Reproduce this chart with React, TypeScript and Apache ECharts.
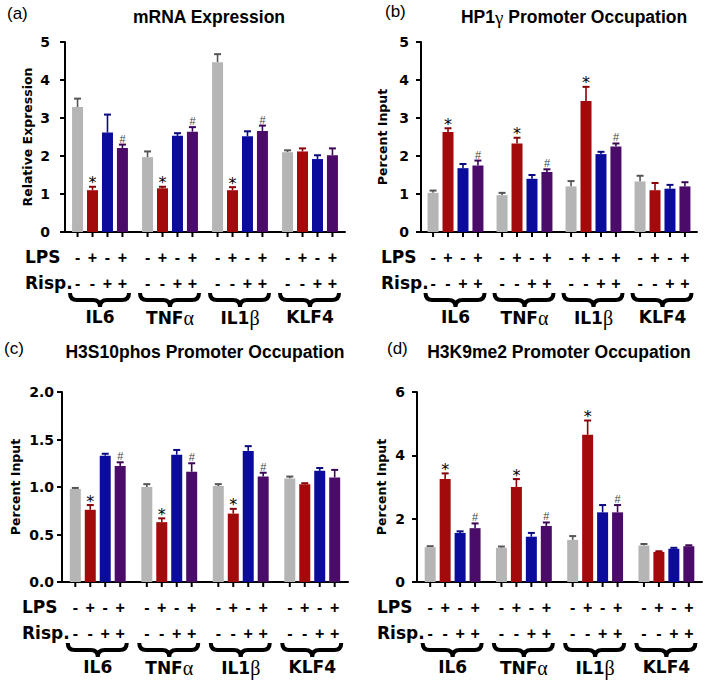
import React, { useEffect, useRef } from "react";
import * as echarts from "echarts";

// ---------- data ----------
const genes = ["IL6", "TNFα", "IL1β", "KLF4"];
const conditions = ["Control", "LPS", "Risp.", "LPS + Risp."];
const lpsSigns = ["-", "+", "-", "+"];
const rispSigns = ["-", "-", "+", "+"];
const conditionMarks = ["", "*", "", "#"];
const markedGenes = [true, true, true, false];

// rows = conditions (Control, LPS, Risp., LPS+Risp.), columns = genes
const mrnaMean = [
  [3.29, 1.97, 4.47, 2.1],
  [1.1, 1.15, 1.1, 2.12],
  [2.62, 2.53, 2.52, 1.92],
  [2.21, 2.64, 2.66, 2.02],
];
const mrnaSem = [
  [0.22, 0.15, 0.21, 0.05],
  [0.09, 0.04, 0.08, 0.08],
  [0.47, 0.07, 0.13, 0.1],
  [0.09, 0.12, 0.14, 0.18],
];
const hp1Mean = [
  [1.03, 0.97, 1.2, 1.33],
  [2.63, 2.33, 3.45, 1.1],
  [1.68, 1.4, 2.05, 1.14],
  [1.75, 1.58, 2.25, 1.2],
];
const hp1Sem = [
  [0.06, 0.06, 0.14, 0.15],
  [0.1, 0.15, 0.37, 0.19],
  [0.11, 0.1, 0.06, 0.1],
  [0.13, 0.07, 0.08, 0.11],
];
const h3s10Mean = [
  [0.98, 1.0, 1.01, 1.09],
  [0.76, 0.63, 0.72, 1.03],
  [1.33, 1.34, 1.38, 1.17],
  [1.22, 1.16, 1.11, 1.1],
];
const h3s10Sem = [
  [0.01, 0.03, 0.02, 0.02],
  [0.05, 0.04, 0.05, 0.01],
  [0.02, 0.05, 0.05, 0.03],
  [0.04, 0.09, 0.04, 0.08],
];
const h3k9Mean = [
  [1.1, 1.08, 1.33, 1.15],
  [3.25, 3.0, 4.65, 0.95],
  [1.55, 1.43, 2.2, 1.05],
  [1.7, 1.77, 2.2, 1.13],
];
const h3k9Sem = [
  [0.03, 0.04, 0.12, 0.05],
  [0.18, 0.25, 0.45, 0.02],
  [0.05, 0.12, 0.23, 0.03],
  [0.15, 0.11, 0.23, 0.03],
];

// ---------- styles ----------
const FONT = '"Liberation Sans", Arial, Helvetica, sans-serif';
const WIDE = '"DejaVu Sans", Verdana, sans-serif';
const SERIF = '"Liberation Serif", "Times New Roman", serif';
const barColors = ["#b5b5b5", "#a30a0c", "#0c0c9c", "#4b0c69"];
const errColors = ["#555555", "#8a0008", "#0a0a80", "#3a0856"];
const BAR_W = 11;
const GAP = 0.36;
const STEP = BAR_W * (1 + GAP);

const panels = [
  {
    label: "(a)",
    title: "mRNA Expression",
    mean: mrnaMean,
    sem: mrnaSem,
    yName: "Relative Expression",
    max: 5,
    interval: 1,
    decimals: 0,
    grid: { left: 65, top: 42, width: 280, height: 190 },
    nameGap: 31,
    labelMargin: 15,
    labelPos: [7, 15],
    titlePos: [209, 17],
  },
  {
    label: "(b)",
    title: "HP1γ Promoter Occupation",
    mean: hp1Mean,
    sem: hp1Sem,
    yName: "Percent Input",
    max: 5,
    interval: 1,
    decimals: 0,
    grid: { left: 421, top: 42, width: 276, height: 190 },
    nameGap: 32,
    labelMargin: 12,
    labelPos: [385, 13],
    titlePos: [574, 17],
  },
  {
    label: "(c)",
    title: "H3S10phos Promoter Occupation",
    mean: h3s10Mean,
    sem: h3s10Sem,
    yName: "Percent Input",
    max: 2,
    interval: 0.5,
    decimals: 1,
    grid: { left: 62, top: 392, width: 286, height: 190 },
    nameGap: 40,
    labelMargin: 8,
    labelPos: [4, 350],
    titlePos: [205, 352],
  },
  {
    label: "(d)",
    title: "H3K9me2 Promoter Occupation",
    mean: h3k9Mean,
    sem: h3k9Sem,
    yName: "Percent Input",
    max: 6,
    interval: 2,
    decimals: 0,
    grid: { left: 417, top: 392, width: 285, height: 190 },
    nameGap: 29,
    labelMargin: 12,
    labelPos: [387, 350],
    titlePos: [559, 352],
  },
];

function richify(s: string) {
  return s.replace(/([^αβγ]+)/g, "{b|$1}").replace(/([αβγ])/g, "{g|$1}");
}

function makeRich(family: string, size: number, greekSize: number) {
  return {
    b: { fontFamily: family, fontWeight: "bold", fontSize: size, color: "#000" },
    g: { fontFamily: SERIF, fontWeight: "normal", fontSize: greekSize, color: "#000" },
  };
}

function signText(text: string, x: number, y: number) {
  return {
    type: "text",
    x,
    y,
    style: {
      text,
      fontFamily: FONT,
      fontWeight: "bold",
      fontSize: 16,
      fill: "#000",
      align: "center",
      verticalAlign: "middle",
    },
  };
}

function buildOption() {
  const grid: any[] = [];
  const xAxis: any[] = [];
  const yAxis: any[] = [];
  const series: any[] = [];
  const graphic: any[] = [];

  panels.forEach((p, pi) => {
    grid.push({ ...p.grid, containLabel: false });
    xAxis.push({
      type: "category",
      gridIndex: pi,
      data: genes,
      axisLine: { lineStyle: { color: "#000", width: 2 } },
      axisTick: { show: false },
      axisLabel: {
        interval: 0,
        margin: 76,
        formatter: (v: string) => richify(v),
        rich: makeRich(WIDE, 17, 20),
      },
    });
    yAxis.push({
      type: "value",
      gridIndex: pi,
      min: 0,
      max: p.max,
      interval: p.interval,
      name: p.yName,
      nameLocation: "middle",
      nameGap: p.nameGap,
      nameTextStyle: { fontFamily: WIDE, fontWeight: "bold", fontSize: 12.5, color: "#000" },
      splitLine: { show: false },
      axisLine: { show: true, lineStyle: { color: "#000", width: 2 } },
      axisTick: { show: true, length: 5, lineStyle: { color: "#000", width: 2 } },
      axisLabel: {
        margin: p.labelMargin,
        fontFamily: WIDE,
        fontWeight: "bold",
        fontSize: 14,
        color: "#000",
        formatter: (v: number) => v.toFixed(p.decimals),
      },
    });

    conditions.forEach((c, ci) => {
      series.push({
        type: "bar",
        name: c,
        xAxisIndex: pi,
        yAxisIndex: pi,
        data: p.mean[ci],
        barWidth: BAR_W,
        barGap: GAP * 100 + "%",
        itemStyle: { color: barColors[ci] },
        silent: true,
      });
    });

    const data: number[][] = [];
    conditions.forEach((_, ci) => {
      genes.forEach((_, gi) => {
        data.push([gi, ci, p.mean[ci][gi], p.sem[ci][gi]]);
      });
    });

    series.push({
      type: "custom",
      xAxisIndex: pi,
      yAxisIndex: pi,
      data,
      silent: true,
      encode: { x: 0, y: 2 },
      renderItem: (params: any, api: any) => {
        const g = api.value(0);
        const c = api.value(1);
        const mean = api.value(2);
        const sem = api.value(3);
        const base = api.coord([g, 0]);
        const band = api.size([1, 0])[0];
        const y0 = base[1];
        const x = base[0] + (c - 1.5) * STEP;
        const yTop = api.coord([g, mean])[1];
        const yErr = api.coord([g, mean + sem])[1];
        const children: any[] = [
          {
            type: "line",
            shape: { x1: x, y1: yTop, x2: x, y2: yErr },
            style: { stroke: errColors[c], lineWidth: 1.6 },
          },
          {
            type: "line",
            shape: { x1: x - 3.5, y1: yErr, x2: x + 3.5, y2: yErr },
            style: { stroke: errColors[c], lineWidth: 2 },
          },
          {
            type: "line",
            shape: { x1: x, y1: y0, x2: x, y2: y0 + 5 },
            style: { stroke: "#000", lineWidth: 2 },
          },
          signText(lpsSigns[c], x, y0 + 25),
          signText(rispSigns[c], x, y0 + 51),
        ];
        const mark = markedGenes[g] ? conditionMarks[c] : "";
        if (mark) {
          children.push({
            type: "text",
            x,
            y: yErr - (mark === "*" ? 4 : 6),
            style: {
              text: mark,
              fontFamily: mark === "*" ? WIDE : FONT,
              fontSize: mark === "*" ? 16 : 11,
              fill: mark === "*" ? "#000" : "#444",
              align: "center",
              verticalAlign: "middle",
            },
          });
        }
        if (c === 0) {
          const xm = base[0];
          const xL = xm - 30;
          const xR = xm + 29;
          const yT = y0 + 61;
          const yM = y0 + 68;
          const yB = y0 + 75;
          const r = 7;
          const d =
            `M${xL},${yT} Q${xL},${yM} ${xL + r},${yM} L${xm - r},${yM} ` +
            `Q${xm},${yM} ${xm},${yB} Q${xm},${yM} ${xm + r},${yM} ` +
            `L${xR - r},${yM} Q${xR},${yM} ${xR},${yT}`;
          children.push({
            type: "path",
            shape: { pathData: d },
            style: { stroke: "#000", lineWidth: 4, fill: "none" },
          });
          if (g === 0) {
            const gl = xm - band / 2;
            children.push({
              type: "text",
              x: gl - 40,
              y: y0 + 25,
              style: {
                text: "LPS",
                fontFamily: WIDE,
                fontWeight: "bold",
                fontSize: 17,
                fill: "#000",
                align: "left",
                verticalAlign: "middle",
              },
            });
            children.push({
              type: "text",
              x: gl - 40,
              y: y0 + 51,
              style: {
                text: "Risp.",
                fontFamily: WIDE,
                fontWeight: "bold",
                fontSize: 17,
                fill: "#000",
                align: "left",
                verticalAlign: "middle",
              },
            });
          }
        }
        return { type: "group", children };
      },
    });

    graphic.push({
      type: "text",
      left: p.labelPos[0],
      top: p.labelPos[1] - 10,
      style: {
        text: p.label,
        fontFamily: FONT,
        fontSize: 17,
        fill: "#000",
      },
    });
    graphic.push({
      type: "text",
      x: p.titlePos[0],
      y: p.titlePos[1],
      style: {
        text: richify(p.title),
        rich: makeRich(FONT, 17.5, 19),
        align: "center",
        verticalAlign: "middle",
      },
    });
  });

  return {
    animation: false,
    backgroundColor: "#fff",
    grid,
    xAxis,
    yAxis,
    series,
    graphic,
  };
}

export default function App() {
  const ref = useRef<HTMLDivElement>(null);
  useEffect(() => {
    if (!ref.current) return;
    const chart = echarts.init(ref.current, undefined, { renderer: "svg" });
    chart.setOption(buildOption() as any);
    return () => chart.dispose();
  }, []);
  return (
    <div
      ref={ref}
      style={{ position: "fixed", left: 0, top: 0, width: 709, height: 682, background: "#fff" }}
    />
  );
}
